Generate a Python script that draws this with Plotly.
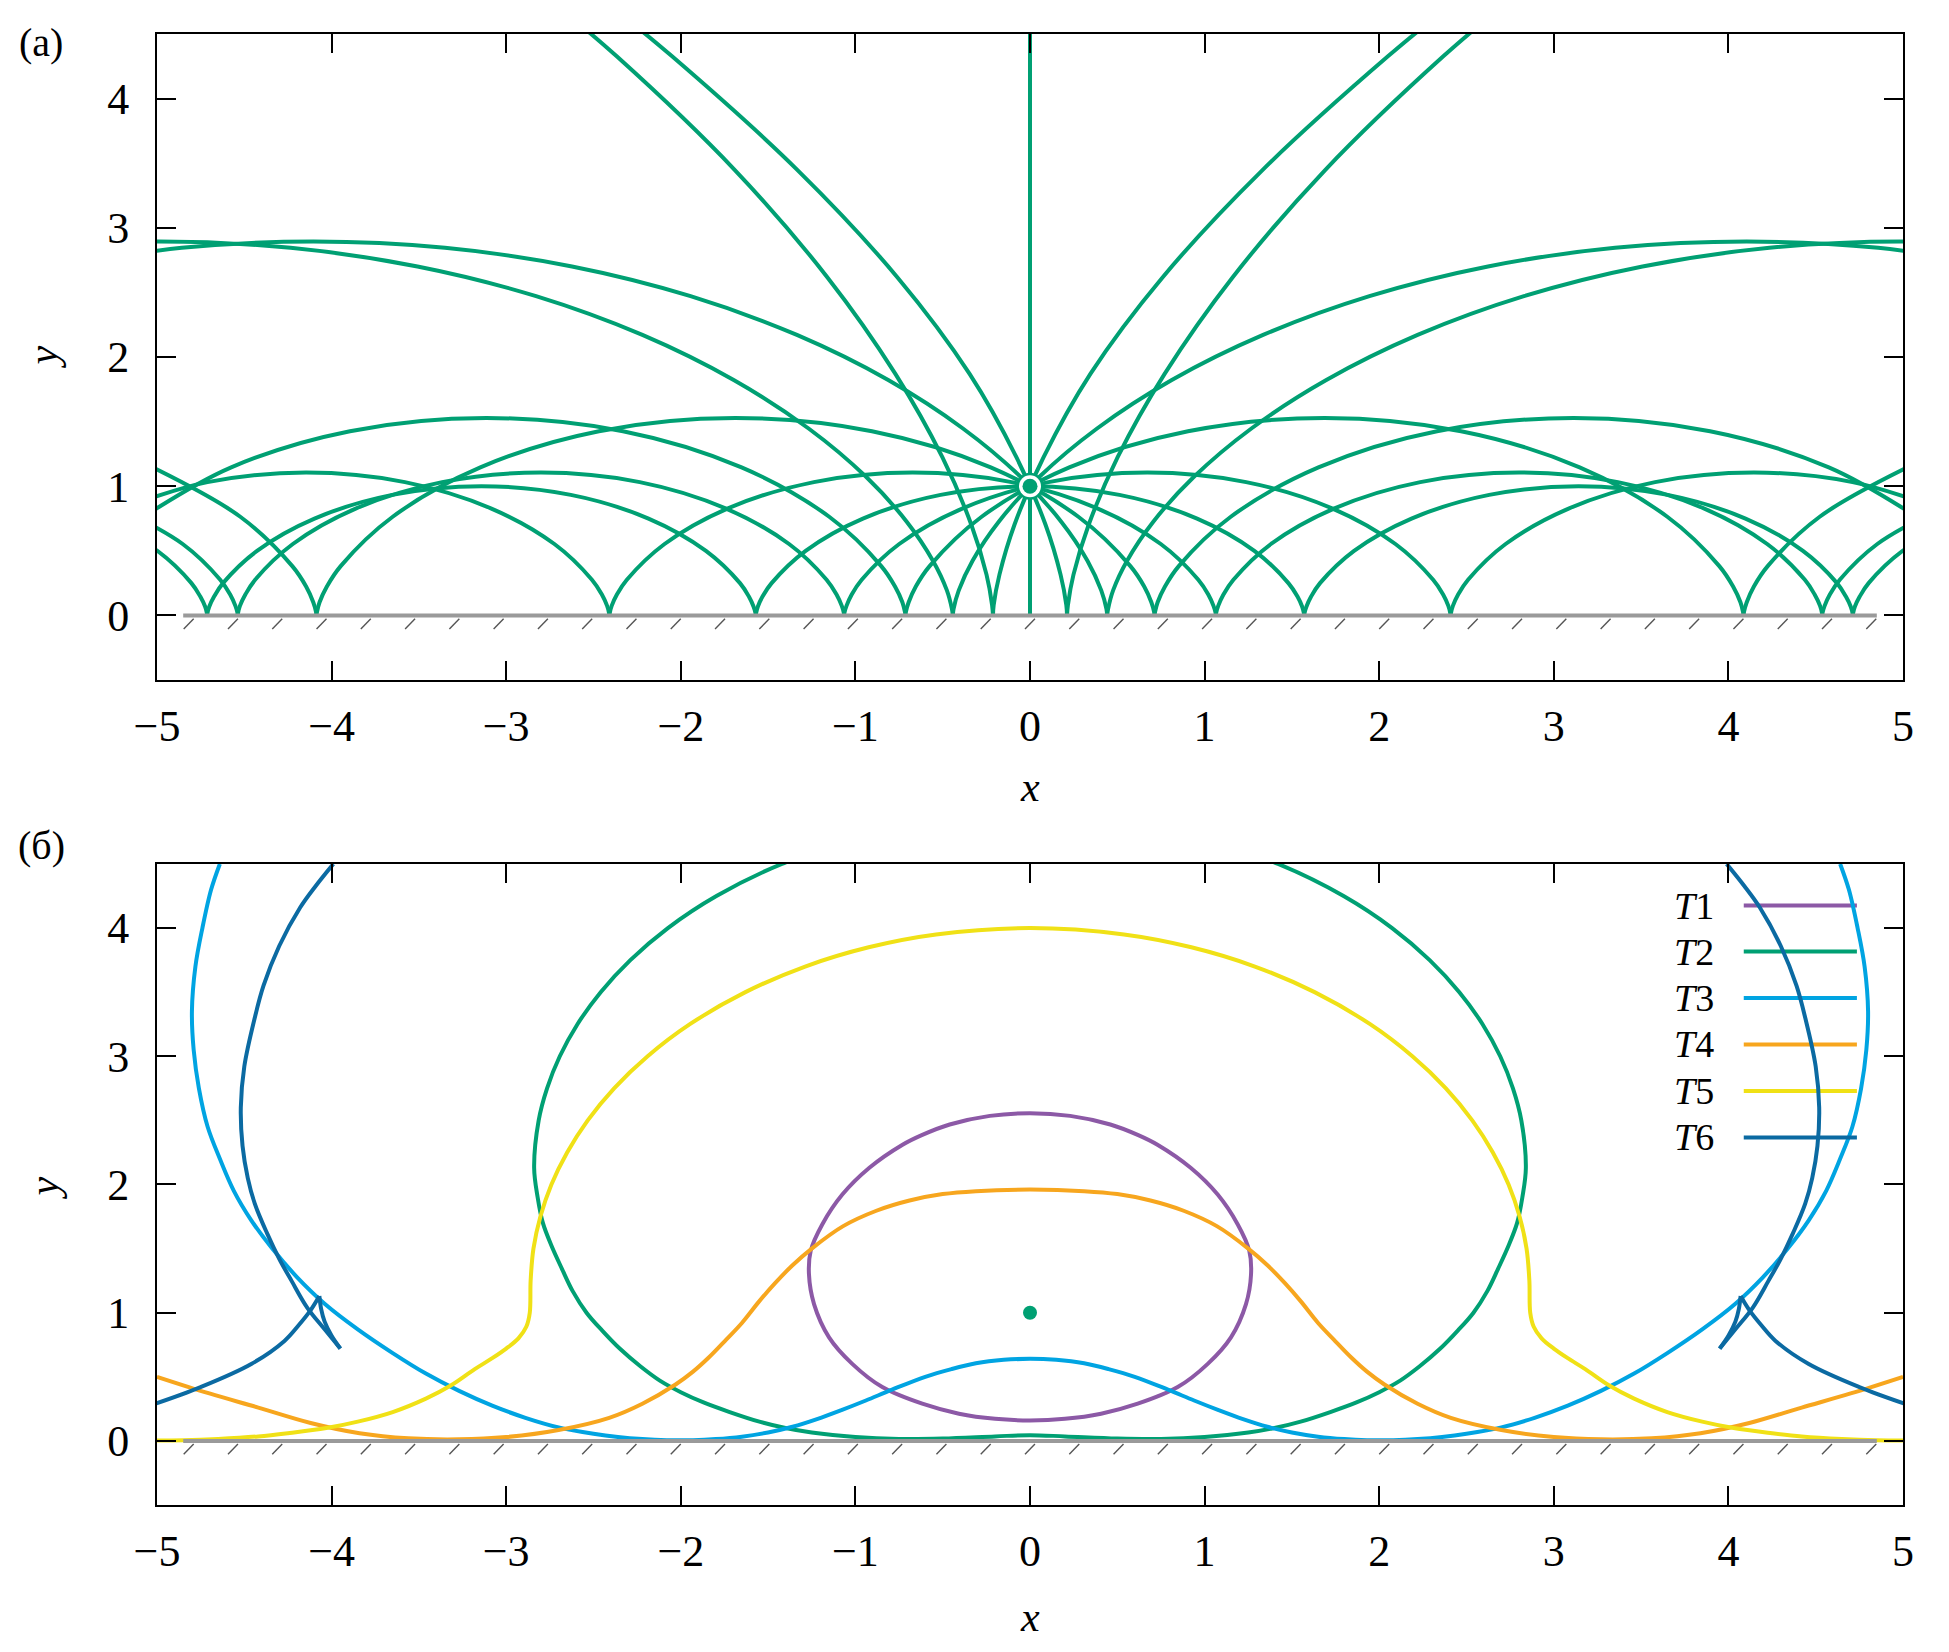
import plotly.graph_objects as go

# ---------------- panel (a): ray arches ----------------
MID_X = [-1.571, -1.569, -1.559, -1.532, -1.480, -1.285, -0.957, -0.512, 0.0,
         0.512, 0.957, 1.285, 1.480, 1.532, 1.559, 1.569, 1.571]
MID_Y = [0, 0.017, 0.067, 0.146, 0.25, 0.5, 0.75, 0.933, 1.0,
         0.933, 0.75, 0.5, 0.25, 0.146, 0.067, 0.017, 0]
VERT_X = [0, 0]
VERT_Y = [0, 4.5]

# right-going ray families (the left-going ones are their mirror images)
RAY1_X = [[1.571, 1.572, 1.583, 1.610, 1.661, 1.856, 2.185, 2.630, 3.142, 3.653, 4.098, 4.427, 4.622, 4.673, 4.701, 4.711, 4.712],
          [4.712, 4.714, 4.724, 4.752, 4.803, 4.998, 5.327]]
RAY1_Y = [[0, 0.017, 0.067, 0.146, 0.25, 0.5, 0.75, 0.933, 1.0, 0.933, 0.75, 0.5, 0.25, 0.146, 0.067, 0.017, 0],
          [0, 0.017, 0.067, 0.146, 0.25, 0.5, 0.75]]

RAY2_X = [[-5.217, -4.853, -4.638, -4.581, -4.551, -4.539, -4.538],
          [-4.538, -4.536, -4.525, -4.494, -4.438, -4.222, -3.859, -3.367, -2.801, -2.235, -1.744, -1.380, -1.165, -1.108, -1.078, -1.066, -1.064],
          [-1.064, -1.063, -1.051, -1.021, -0.964, -0.749, -0.385, 0.106, 0.672, 1.238, 1.730, 2.093, 2.309, 2.366, 2.396, 2.407, 2.409],
          [2.409, 2.411, 2.422, 2.452, 2.509, 2.724, 3.088, 3.580, 4.146, 4.711, 5.203]]
RAY2_Y = [[0.829, 0.553, 0.276, 0.162, 0.074, 0.019, 0],
          [0, 0.019, 0.074, 0.162, 0.276, 0.553, 0.829, 1.032, 1.106, 1.032, 0.829, 0.553, 0.276, 0.162, 0.074, 0.019, 0],
          [0, 0.019, 0.074, 0.162, 0.276, 0.553, 0.829, 1.032, 1.106, 1.032, 0.829, 0.553, 0.276, 0.162, 0.074, 0.019, 0],
          [0, 0.019, 0.074, 0.162, 0.276, 0.553, 0.829, 1.032, 1.106, 1.032, 0.829]]

RAY3_X = [[-5.077, -4.575, -3.895, -3.113, -2.331, -1.652, -1.150, -0.852, -0.773, -0.731, -0.716, -0.713],
          [-0.713, -0.711, -0.695, -0.654, -0.575, -0.277, 0.225, 0.905, 1.687, 2.469, 3.148, 3.650, 3.948, 4.027, 4.069, 4.084, 4.087],
          [4.087, 4.089, 4.105, 4.146, 4.225, 4.523, 5.025]]
RAY3_Y = [[0.764, 1.146, 1.426, 1.528, 1.426, 1.146, 0.764, 0.382, 0.224, 0.102, 0.026, 0],
          [0, 0.026, 0.102, 0.224, 0.382, 0.764, 1.146, 1.426, 1.528, 1.426, 1.146, 0.764, 0.382, 0.224, 0.102, 0.026, 0],
          [0, 0.026, 0.102, 0.224, 0.382, 0.764, 1.146]]

RAY4_X = [[-6.470, -5.742, -4.989, -4.235, -3.508, -2.829, -2.220, -1.697, -1.268, -0.939, -0.705, -0.556, -0.476, -0.447, -0.442],
          [-0.442, -0.438, -0.408, -0.329, -0.180, 0.054, 0.384, 0.812, 1.335, 1.944, 2.623, 3.351, 4.104, 4.858, 5.586]]
RAY4_Y = [[2.701, 2.845, 2.894, 2.845, 2.701, 2.471, 2.171, 1.822, 1.447, 1.073, 0.724, 0.424, 0.194, 0.049, 0],
          [0, 0.049, 0.194, 0.424, 0.724, 1.073, 1.447, 1.822, 2.171, 2.471, 2.701, 2.845, 2.894, 2.845, 2.701]]

RAY5_X = [[-2.764, -2.367, -1.689, -1.161, -0.771, -0.502, -0.336, -0.249, -0.217, -0.212],
          [-0.212, -0.208, -0.175, -0.089, 0.078, 0.346, 0.760, 1.330, 2.050, 2.460]]
RAY5_Y = [[4.780, 4.327, 3.445, 2.618, 1.870, 1.225, 0.702, 0.316, 0.080, 0],
          [0, 0.080, 0.316, 0.702, 1.225, 1.870, 2.618, 3.445, 4.327, 4.780]]

SOURCE_X = [0]
SOURCE_Y = [1]

# ---------------- panel (б): wavefronts T1..T6 (right halves, mirrored) ----------------
T1_X = [0, 0.23, 0.46, 0.62, 0.73, 0.92, 1.075, 1.19, 1.256, 1.266, 1.237, 1.151, 1.018, 0.846, 0.617, 0.407, 0.20, 0]
T1_Y = [2.556, 2.535, 2.468, 2.385, 2.31, 2.13, 1.921, 1.688, 1.482, 1.30, 1.067, 0.808, 0.601, 0.42, 0.29, 0.212, 0.172, 0.16]

T2_X = [0, 0.98, 1.421, 1.796, 2.074, 2.289, 2.459, 2.592, 2.693, 2.766, 2.814, 2.84, 2.82, 2.79, 2.74, 2.68, 2.62, 2.54,
        2.45, 2.35, 2.23, 2.12, 2.0, 1.87, 1.72, 1.55, 1.40, 1.25, 1.0, 0.75, 0.5, 0.2, 0]
T2_Y = [4.87, 4.70, 4.50, 4.25, 4.0, 3.75, 3.5, 3.25, 3.0, 2.75, 2.5, 2.13, 1.90, 1.70, 1.52, 1.34, 1.17, 1.00,
        0.86, 0.72, 0.58, 0.47, 0.38, 0.30, 0.225, 0.15, 0.10, 0.065, 0.03, 0.015, 0.018, 0.035, 0.045]

T3_X = [0, 0.15, 0.31, 0.45, 0.60, 0.79, 0.94, 1.08, 1.22, 1.36, 1.50, 1.65, 1.80, 1.93, 2.08, 2.22, 2.36, 2.50, 2.70,
        2.89, 3.08, 3.27, 3.46, 3.65, 3.85, 4.04, 4.20, 4.34, 4.46, 4.56, 4.64, 4.71, 4.76, 4.79, 4.80, 4.78, 4.74, 4.69, 4.64]
T3_Y = [0.64, 0.632, 0.605, 0.56, 0.50, 0.40, 0.315, 0.24, 0.17, 0.11, 0.066, 0.033, 0.014, 0.006, 0.006, 0.014, 0.03, 0.055, 0.105,
        0.18, 0.275, 0.39, 0.525, 0.685, 0.87, 1.07, 1.28, 1.50, 1.72, 1.95, 2.20, 2.45, 2.75, 3.05, 3.35, 3.70, 4.0, 4.3, 4.5]

T4_X = [0, 0.31, 0.50, 0.69, 0.88, 1.07, 1.25, 1.36, 1.46, 1.55, 1.65, 1.74, 1.84, 1.93, 2.03, 2.22, 2.41, 2.70,
        3.0, 3.27, 3.56, 3.84, 4.12, 4.42, 4.70, 5.0]
T4_Y = [1.96, 1.948, 1.925, 1.875, 1.795, 1.675, 1.50, 1.37, 1.23, 1.09, 0.92, 0.79, 0.65, 0.54, 0.44, 0.29, 0.18, 0.085,
        0.03, 0.012, 0.02, 0.06, 0.14, 0.26, 0.37, 0.50]

T5_X = [0, 0.538, 0.924, 1.288, 1.630, 1.948, 2.190, 2.382, 2.533, 2.651, 2.741, 2.804, 2.844, 2.86, 2.865, 2.885, 2.93,
        3.0, 3.08, 3.18, 3.32, 3.46, 3.65, 3.85, 4.03, 4.25, 4.42, 4.65, 4.85, 5.0]
T5_Y = [4.0, 3.95, 3.85, 3.7, 3.5, 3.25, 3.0, 2.75, 2.5, 2.25, 2.0, 1.75, 1.5, 1.25, 1.0, 0.89, 0.80,
        0.72, 0.645, 0.56, 0.43, 0.33, 0.225, 0.15, 0.10, 0.06, 0.035, 0.015, 0.005, 0.003]

# T6: left branch in three pieces between its cusps (right branch is the mirror)
T6_X = [[-3.99, -4.09, -4.18, -4.30, -4.39, -4.44, -4.50, -4.52, -4.51, -4.48, -4.44, -4.37, -4.30, -4.23, -4.14, -4.04, -3.95],
        [-3.95, -4.00, -4.04, -4.06, -4.07],
        [-4.07, -4.12, -4.19, -4.27, -4.46, -4.75, -5.01]]
T6_Y = [[4.50, 4.33, 4.16, 3.86, 3.55, 3.30, 2.92, 2.60, 2.30, 2.05, 1.85, 1.62, 1.42, 1.25, 1.04, 0.87, 0.72],
        [0.72, 0.82, 0.93, 1.03, 1.13],
        [1.13, 1.02, 0.90, 0.78, 0.60, 0.42, 0.29]]

LEGEND_LABELS = ["T1", "T2", "T3", "T4", "T5", "T6"]
X_TICKS = [-5, -4, -3, -2, -1, 0, 1, 2, 3, 4, 5]
Y_TICKS = [0, 1, 2, 3, 4]

# ---------------- styles ----------------
GREEN = "#00a073"
COLORS = ["#8c59a6", "#00a073", "#00a4e2", "#f7a61e", "#f0e116", "#0b6aa2"]
FONT = "Liberation Serif"
LW = 4.0


def mirror(xs):
    return [-v for v in xs]


def sym_closed(xr, yr):
    xs = list(xr) + [-v for v in reversed(xr)][1:]
    ys = list(yr) + list(reversed(yr))[1:]
    return xs, ys


def sym_open(xr, yr):
    xs = [-v for v in reversed(xr)] + list(xr)[1:]
    ys = list(reversed(yr)) + list(yr)[1:]
    return xs, ys


fig = go.Figure()


def line(x, y, color, ax, width=LW, shape="spline"):
    xa, ya = ("x", "y") if ax == 1 else ("x2", "y2")
    fig.add_trace(go.Scatter(x=x, y=y, mode="lines", xaxis=xa, yaxis=ya,
                             line=dict(color=color, width=width, shape=shape),
                             hoverinfo="skip", showlegend=False))


# panel (a) rays
line(MID_X, MID_Y, GREEN, 1)
line(VERT_X, VERT_Y, GREEN, 1, shape="linear")
for XS, YS in [(RAY1_X, RAY1_Y), (RAY2_X, RAY2_Y), (RAY3_X, RAY3_Y), (RAY4_X, RAY4_Y), (RAY5_X, RAY5_Y)]:
    for xs, ys in zip(XS, YS):
        line(xs, ys, GREEN, 1)
        line(mirror(xs), ys, GREEN, 1)

# hatched wall (decoration) for both panels
H_START, H_STEP, H_N, H_DX, H_TOP, H_BOT = -4.79, 0.2536, 39, 0.057, -0.025, -0.105
hx, hy = [], []
for k in range(H_N):
    x0 = H_START + k * H_STEP
    hx += [x0, x0 - H_DX, None]
    hy += [H_TOP, H_BOT, None]
WALL_X = [-4.85, 4.85]
KEY_Y = [4.175, 3.817, 3.455, 3.092, 2.73, 2.367]

for ax in (1, 2):
    if ax == 2:
        curves = [sym_closed(T1_X, T1_Y), sym_closed(T2_X, T2_Y), sym_open(T3_X, T3_Y),
                  sym_open(T4_X, T4_Y), sym_open(T5_X, T5_Y)]
        for i in range(6):
            line([4.088, 4.736], [KEY_Y[i], KEY_Y[i]], COLORS[i], 2, shape="linear")
            if i < 5:
                line(curves[i][0], curves[i][1], COLORS[i], 2)
            else:
                for xs, ys in zip(T6_X, T6_Y):
                    line(xs, ys, COLORS[5], 2)
                    line(mirror(xs), ys, COLORS[5], 2)
    line(hx, hy, "#555555", ax, width=1.4, shape="linear")
    line(WALL_X, [0, 0], "#9a9a9a", ax, width=4, shape="linear")

# source points
for size, col in [(27, GREEN), (22, "white"), (15, GREEN)]:
    fig.add_trace(go.Scatter(x=SOURCE_X, y=SOURCE_Y, mode="markers", xaxis="x", yaxis="y",
                             marker=dict(size=size, color=col), hoverinfo="skip", showlegend=False))
fig.add_trace(go.Scatter(x=SOURCE_X, y=SOURCE_Y, mode="markers", xaxis="x2", yaxis="y2",
                         marker=dict(size=14, color=GREEN), hoverinfo="skip", showlegend=False))

xt_text = [("\u2212" + str(-v)) if v < 0 else str(v) for v in X_TICKS]
axis_common = dict(showgrid=False, zeroline=False, showline=True, linecolor="black", linewidth=2,
                   mirror="ticks", ticks="inside", ticklen=19, tickwidth=2, tickcolor="black",
                   tickfont=dict(family=FONT, size=44, color="black"))
xcommon = dict(axis_common, range=[-5, 5], tickvals=X_TICKS, ticktext=xt_text, ticklabelstandoff=6)
ycommon = dict(axis_common, range=[-0.5, 4.5], tickvals=Y_TICKS, ticktext=[str(v) for v in Y_TICKS],
               ticklabelstandoff=17)

# page body has an 8 px margin, so the figure is 8 px smaller and the margins shifted
fig.update_layout(
    width=1941, height=1644,
    margin=dict(l=149, r=46, t=26, b=147),
    paper_bgcolor="white", plot_bgcolor="white",
    showlegend=False,
    font=dict(family=FONT, size=40, color="black"),
    xaxis=dict(xcommon, domain=[0, 1], anchor="y"),
    yaxis=dict(ycommon, domain=[0.5608, 1], anchor="x"),
    xaxis2=dict(xcommon, domain=[0, 1], anchor="y2"),
    yaxis2=dict(ycommon, domain=[0, 0.4358], anchor="x2"),
)

ann = []


def txt(text, x, y, xref="paper", yref="paper", xanchor="center", yanchor="middle", angle=0, size=40):
    ann.append(dict(text=text, x=x, y=y, xref=xref, yref=yref, xanchor=xanchor, yanchor=yanchor,
                    showarrow=False, textangle=angle, font=dict(family=FONT, size=size, color="black")))


txt("<i>x</i>", 0.5, 0.488, size=42)
txt("<i>y</i>", -0.065, 0.7804, angle=-90, size=42)
txt("<i>x</i>", 0.5, -0.0761, size=42)
txt("<i>y</i>", -0.065, 0.2155, angle=-90, size=42)
txt("(a)", -0.0664, 0.9939)
txt("(б)", -0.0664, 0.448)
for lab, yy in zip(LEGEND_LABELS, KEY_Y):
    txt("<i>%s</i>%s" % (lab[0], lab[1:]), 3.93, yy, xref="x2", yref="y2", xanchor="right", size=38)
fig.update_layout(annotations=ann)

fig.write_html("out.html")
